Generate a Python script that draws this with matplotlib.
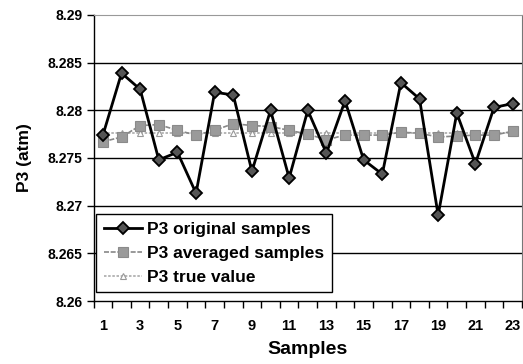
import matplotlib
matplotlib.use("Agg")
import matplotlib.pyplot as plt
import numpy as np

samples = list(range(1, 24))
original = [8.2774, 8.2839, 8.2822, 8.2748, 8.2756, 8.2713, 8.2819, 8.2816,
            8.2736, 8.2800, 8.2729, 8.2800, 8.2755, 8.2810, 8.2748, 8.2733,
            8.2829, 8.2812, 8.2690, 8.2797, 8.2744, 8.2803, 8.2807]
averaged = [8.2767, 8.2772, 8.2784, 8.2785, 8.2779, 8.2774, 8.2779, 8.2786,
            8.2784, 8.2783, 8.2779, 8.2775, 8.2769, 8.2774, 8.2774, 8.2774,
            8.2777, 8.2776, 8.2772, 8.2773, 8.2774, 8.2774, 8.2778]
true_value = [8.2776] * 23
yticks = [8.26, 8.265, 8.27, 8.275, 8.28, 8.285, 8.29]
ytick_labels = ["8.26", "8.265", "8.27", "8.275", "8.28", "8.285", "8.29"]
xtick_labels = [str(i) for i in range(1, 24, 2)]

plt.rcParams['font.family'] = ['Liberation Sans', 'DejaVu Sans']
fig = plt.figure(figsize=(5.23, 3.64), dpi=100)
ax = fig.add_axes([0.179, 0.173, 0.819, 0.786])

for y in yticks[1:-1]:
    ax.axhline(y, color='black', lw=1.0, zorder=1)

ax.plot(samples, true_value, color='#aaaaaa', lw=1.2, ls=(0, (1.5, 1)),
        marker='^', ms=5, mfc='white', mec='#999999', mew=0.8, zorder=2,
        label='P3 true value')
ax.plot(samples, averaged, color='#888888', lw=1.2, ls=(0, (3, 1)),
        marker='s', ms=7, mfc='#9a9a9a', mec='#8a8a8a', mew=0.8, zorder=3,
        label='P3 averaged samples')
ax.plot(samples, original, color='black', lw=2.0,
        marker='D', ms=6.3, mfc='#555555', mec='black', mew=1.3, zorder=4,
        label='P3 original samples')

ax.set_xlim(0.5, 23.5)
ax.set_ylim(8.26, 8.29)
ax.set_yticks(yticks)
ax.set_yticklabels(ytick_labels, fontsize=10, fontweight='bold')
ax.set_xticks(list(range(1, 24, 2)))
ax.set_xticklabels(xtick_labels, fontsize=10.5, fontweight='bold')
ax.tick_params(axis='x', length=0, pad=13)
ax.set_xticks(np.arange(0.5, 24, 1), minor=True)
ax.tick_params(axis='x', which='minor', length=5, direction='out', width=1)
ax.tick_params(axis='y', length=5, direction='out', width=1, pad=3)

ax.spines['top'].set_color('#999999')
ax.spines['top'].set_linestyle((0, (1, 1)))
ax.spines['right'].set_color('#777777')
ax.spines['left'].set_linewidth(1.0)
ax.spines['bottom'].set_linewidth(1.0)

ax.set_xlabel('Samples', fontsize=14, fontweight='bold', labelpad=6)
ax.set_ylabel('P3 (atm)', fontsize=12.5, fontweight='bold', labelpad=11)

handles, labels = ax.get_legend_handles_labels()
order = [2, 1, 0]
leg = ax.legend([handles[i] for i in order], [labels[i] for i in order],
                loc='lower left', bbox_to_anchor=(0.006, 0.03),
                prop={'size': 12.5, 'weight': 'bold'}, frameon=True,
                fancybox=False, edgecolor='black', framealpha=1,
                handlelength=2.2, handletextpad=0.3, borderpad=0.45,
                labelspacing=0.5, borderaxespad=0)
leg.get_frame().set_linewidth(1.0)

fig.savefig('out.png', dpi=100)
